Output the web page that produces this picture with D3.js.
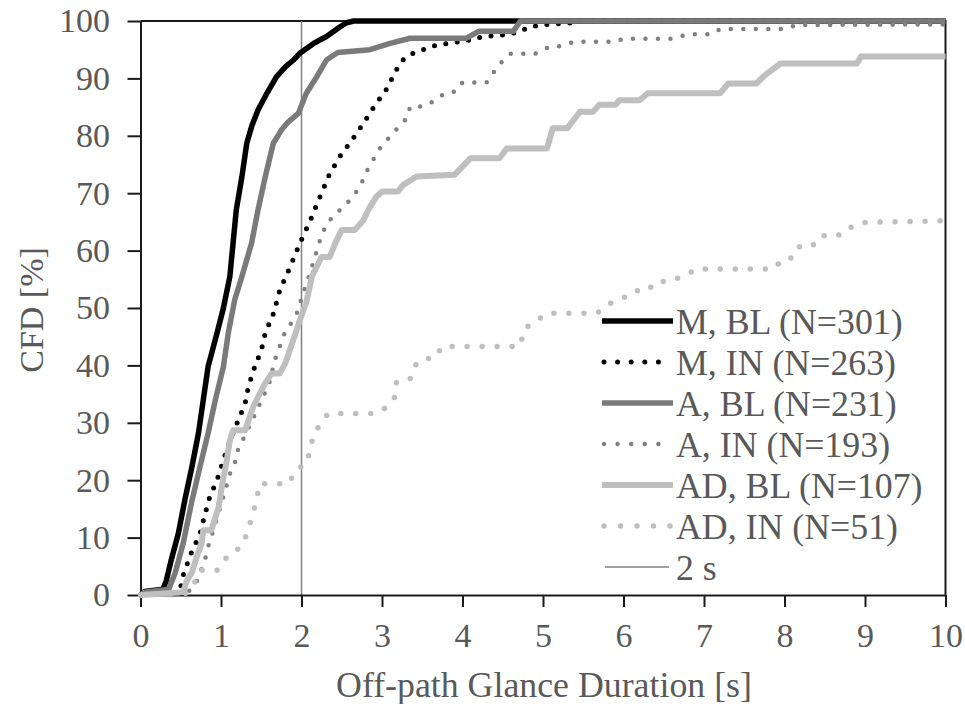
<!DOCTYPE html>
<html>
<head>
<meta charset="utf-8">
<script src="https://cdn.jsdelivr.net/npm/d3@7"></script>
<style>
  html, body { margin: 0; padding: 0; background: #fff; }
  svg { display: block; }
  text { font-family: "Liberation Serif", "Times New Roman", serif; fill: #595959; }
</style>
</head>
<body>
<svg id="chart" width="965" height="704"></svg>
<script>
// Cumulative frequency distributions of off-path glance durations: [duration s, CFD %]
const mBL = [[0,0],[0.05,0.6],[0.28,1.0],[0.32,2.5],[0.38,6],[0.47,10.7],[0.55,16.5],[0.64,22.4],[0.72,28.2],[0.78,34],[0.84,39.8],[0.95,45.6],[1.03,50],[1.11,55.5],[1.15,61.3],[1.19,67.1],[1.26,72.9],[1.32,78.7],[1.38,81.6],[1.46,84.5],[1.57,87.4],[1.69,90.3],[1.80,92],[1.90,93.2],[1.98,94.4],[2.15,96.1],[2.31,97.3],[2.48,99],[2.56,99.7],[2.65,100],[10,100]];
const mIN = [[0,0],[0.3,0.3],[0.49,0.5],[0.52,3],[0.62,7],[0.74,10.7],[0.79,13.5],[0.86,17.1],[0.95,20],[1.07,25.2],[1.15,28.2],[1.30,33.4],[1.34,36.3],[1.42,39.8],[1.50,42.6],[1.55,45.6],[1.65,49],[1.69,51],[1.73,53.1],[1.86,57.2],[1.98,61.3],[2.11,65.3],[2.23,69.4],[2.35,73.4],[2.50,76.9],[2.60,78.7],[2.77,82.2],[2.93,85.7],[3.04,87.7],[3.18,91.5],[3.26,93.2],[3.39,94.4],[3.51,95],[3.68,95.8],[3.97,96.4],[4.09,96.7],[4.26,97.3],[4.55,97.6],[4.71,98.2],[4.84,99],[5.1,99.5],[5.3,99.5],[5.4,100],[10,100]];
const aBL = [[0,0],[0.05,0.5],[0.3,0.9],[0.35,1],[0.43,3.8],[0.53,9],[0.64,16.5],[0.74,22.4],[0.84,28.2],[0.93,34],[1.03,39.8],[1.09,45.6],[1.17,51.4],[1.26,55.5],[1.38,61.3],[1.46,67.1],[1.55,72.9],[1.65,78.7],[1.75,81],[1.82,82.2],[1.96,83.9],[2.06,87.4],[2.19,90.3],[2.31,93.2],[2.45,94.5],[2.85,95],[3.1,96.1],[3.35,97],[4.05,97],[4.2,98.2],[4.63,98.2],[4.72,100],[10,100]];
const aIN = [[0,0],[0.58,0.3],[0.70,2.4],[0.80,6.1],[0.84,8.4],[0.93,12.4],[1.03,17.1],[1.11,21.1],[1.17,22.9],[1.22,25.8],[1.28,27.3],[1.44,32],[1.60,36.9],[1.67,41],[1.79,45.6],[1.86,47.1],[1.94,49],[2.02,52.5],[2.13,57.2],[2.23,61.8],[2.31,64.7],[2.48,67.1],[2.58,68.5],[2.73,71.1],[2.79,73.4],[2.87,75.2],[2.93,76.9],[3.02,78.7],[3.12,80.1],[3.21,81.6],[3.31,83.1],[3.35,85.1],[3.5,85.1],[3.64,86],[3.78,87.4],[3.91,87.7],[4.0,89.3],[4.3,89.3],[4.4,91.3],[4.5,93.1],[4.6,94.3],[4.9,94.3],[5.1,95.6],[5.2,95.6],[5.4,96.4],[5.9,96.4],[6.0,96.9],[6.6,96.9],[6.8,97.7],[7.1,97.7],[7.2,98.6],[8.0,98.6],[8.15,99.3],[10,99.4]];
const adBL = [[0,0],[0.35,0.3],[0.53,0.5],[0.57,2.3],[0.64,4],[0.70,6.7],[0.76,9],[0.78,11.3],[0.88,11.3],[0.97,15.3],[1.01,18.8],[1.07,23.4],[1.11,26.9],[1.15,28.7],[1.3,28.7],[1.40,32.8],[1.46,34.5],[1.55,36.9],[1.63,38.6],[1.73,38.6],[1.80,40.4],[1.90,44.5],[1.98,47.9],[2.06,51],[2.13,55.5],[2.25,58.9],[2.35,58.9],[2.42,61.3],[2.5,63.6],[2.66,63.6],[2.77,65.3],[2.83,67.1],[2.93,69.4],[3.0,70.3],[3.2,70.3],[3.26,71.4],[3.43,72.9],[3.9,73.2],[4.1,76.1],[4.46,76.1],[4.55,77.8],[5.05,77.8],[5.12,81.3],[5.3,81.3],[5.46,84.2],[5.62,84.2],[5.7,85.4],[5.9,85.4],[5.95,86.2],[6.2,86.2],[6.3,87.4],[7.2,87.4],[7.3,89.1],[7.65,89.1],[7.75,90.5],[7.95,92.6],[8.9,92.6],[8.95,93.8],[10,93.8]];
const adIN = [[0,0],[0.57,0.3],[0.70,2.7],[0.74,4.3],[0.95,4.3],[1.05,6.3],[1.17,7.4],[1.28,9.1],[1.34,11.6],[1.40,14.3],[1.44,16.6],[1.48,19.4],[1.84,19.4],[1.94,21.9],[2.06,22.8],[2.11,25.4],[2.15,28],[2.24,29.9],[2.33,31.6],[2.91,31.6],[3.06,32.7],[3.16,34.5],[3.18,37.1],[3.35,37.7],[3.41,40],[3.51,41.2],[3.65,41.2],[3.75,43.3],[4.71,43.3],[4.78,46.5],[4.9,47.6],[5.05,49.1],[5.67,49.1],[5.87,51.1],[6.02,51.9],[6.13,53],[6.3,53],[6.4,54.6],[6.55,54.6],[6.78,55.7],[6.9,56.8],[7.86,56.8],[8.0,58.7],[8.1,58.7],[8.2,61],[8.4,61],[8.5,62.7],[8.7,62.7],[8.8,63.9],[8.96,64.9],[10,65.2]];

const seriesNames = ["M, BL (N=301)", "M, IN (N=263)", "A, BL (N=231)", "A, IN (N=193)", "AD, BL (N=107)", "AD, IN (N=51)"];
const seriesData = [mBL, mIN, aBL, aIN, adBL, adIN];
const xTicks = [0,1,2,3,4,5,6,7,8,9,10];
const yTicks = [0,10,20,30,40,50,60,70,80,90,100];
const thresholdSec = 2;
const thresholdLabel = "2 s";
const xTitle = "Off-path Glance Duration [s]";
const yTitle = "CFD [%]";

(function draw() {
  // line styles per series
  const styles = [
    { color: "#000000", width: 5.5, dash: null },
    { color: "#000000", width: 5,   dash: "0,11.5" },
    { color: "#7a7a7a", width: 5.5, dash: null },
    { color: "#808080", width: 4.5, dash: "0,12.5" },
    { color: "#bfbfbf", width: 6,   dash: null },
    { color: "#bfbfbf", width: 5.5, dash: "0,15" }
  ];

  const svg = d3.select("#chart");
  const m = { left: 140.5, right: 945.5, top: 21, bottom: 595 };
  const tickFont = 34, labelFont = 35.8;

  const x = d3.scaleLinear().domain([0, 10]).range([m.left, m.right]);
  const y = d3.scaleLinear().domain([0, 100]).range([m.bottom, m.top]);

  // plot frame (top and right edges)
  svg.append("path")
    .attr("d", `M${m.left},${m.top}H${m.right}V${m.bottom}`)
    .attr("fill", "none").attr("stroke", "#1a1a1a").attr("stroke-width", 2);

  // 2 s reference line
  svg.append("line")
    .attr("x1", x(thresholdSec)).attr("x2", x(thresholdSec))
    .attr("y1", y(0)).attr("y2", y(100))
    .attr("stroke", "#808080").attr("stroke-width", 1.5);

  // axes
  const yAxis = svg.append("g").attr("transform", `translate(${m.left},0)`)
    .call(d3.axisLeft(y).tickValues(yTicks).tickSize(13).tickSizeOuter(0).tickPadding(17.5));
  const xAxis = svg.append("g").attr("transform", `translate(0,${m.bottom})`)
    .call(d3.axisBottom(x).tickValues(xTicks).tickSize(12).tickSizeOuter(0).tickPadding(16));
  [yAxis, xAxis].forEach(g => {
    g.select(".domain").attr("stroke", "#1a1a1a").attr("stroke-width", 2);
    g.selectAll(".tick line").attr("stroke", "#1a1a1a").attr("stroke-width", 2);
    g.selectAll(".tick text").attr("font-size", tickFont).attr("fill", "#595959")
      .attr("font-family", "Liberation Serif, Times New Roman, serif");
  });

  // curves
  const line = d3.line().x(d => x(d[0])).y(d => y(d[1]));
  seriesData.forEach((data, i) => {
    const s = styles[i];
    svg.append("path")
      .datum(data)
      .attr("d", line)
      .attr("fill", "none")
      .attr("stroke", s.color)
      .attr("stroke-width", s.width)
      .attr("stroke-linejoin", "round")
      .attr("stroke-linecap", s.dash ? "round" : "butt")
      .attr("stroke-dasharray", s.dash);
  });

  // axis titles
  svg.append("text")
    .attr("x", (m.left + m.right) / 2 + 1).attr("y", 697)
    .attr("text-anchor", "middle").attr("font-size", labelFont)
    .text(xTitle);
  svg.append("text")
    .attr("transform", `translate(43,${(m.top + m.bottom) / 2 + 2}) rotate(-90)`)
    .attr("text-anchor", "middle").attr("font-size", tickFont)
    .text(yTitle);

  // legend
  const legX0 = 602, legX1 = 673, legY0 = 321, legStep = 41;
  const legendItems = seriesNames.map((n, i) => ({ name: n, style: styles[i] }))
    .concat([{ name: thresholdLabel, style: { color: "#808080", width: 1.5, dash: null }, short: true }]);
  const leg = svg.append("g");
  legendItems.forEach((item, i) => {
    const yy = legY0 + i * legStep;
    const s = item.style;
    leg.append("line")
      .attr("x1", item.short ? legX0 + 3 : legX0 + (s.dash ? 2 : 0))
      .attr("x2", item.short ? legX1 - 4 : legX1 - (s.dash ? 2 : 0))
      .attr("y1", yy).attr("y2", yy)
      .attr("stroke", s.color).attr("stroke-width", s.width)
      .attr("stroke-linecap", s.dash ? "round" : "butt")
      .attr("stroke-dasharray", s.dash ? (i === 5 ? "0,16.5" : "0,13.6") : null);
    leg.append("text")
      .attr("x", legX1 + 3).attr("y", yy + 12.5)
      .attr("font-size", labelFont)
      .text(item.name);
  });
})();
</script>
</body>
</html>
